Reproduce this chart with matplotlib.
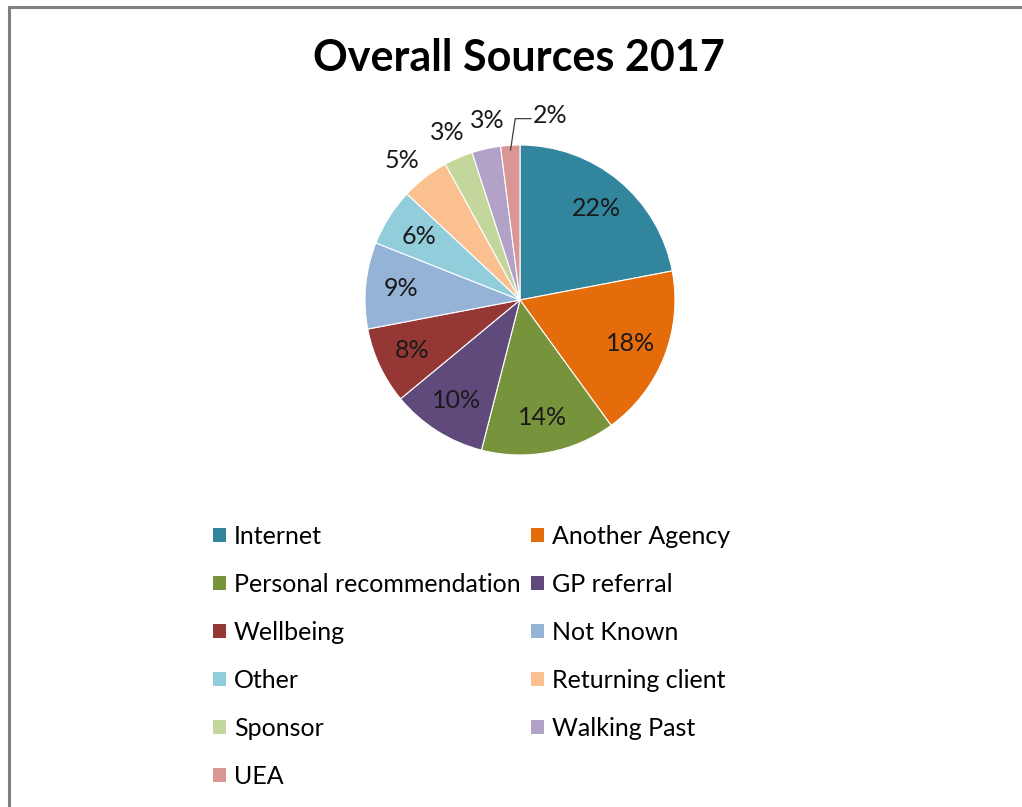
import numpy as np
import matplotlib.pyplot as plt
from matplotlib.patches import Patch
from matplotlib.lines import Line2D

plt.rcParams['font.family'] = ['Lato', 'DejaVu Sans']

sources = ['Internet', 'Another Agency', 'Personal recommendation', 'GP referral',
           'Wellbeing', 'Not Known', 'Other', 'Returning client', 'Sponsor',
           'Walking Past', 'UEA']
shares = [22, 18, 14, 10, 8, 9, 6, 5, 3, 3, 2]
colors = ['#31859C', '#E46C0A', '#77933C', '#604A7B', '#953735', '#95B3D7',
          '#92CDDC', '#FAC090', '#C3D69B', '#B3A2C7', '#D99694']

W, H = 1022, 807
fig = plt.figure(figsize=(W / 100, H / 100), dpi=100)

# pie centred at (520, 300) px, radius 155 px
cx, cy, r = 520, 300, 155
ax = fig.add_axes([(cx - r) / W, 1 - (cy + r) / H, 2 * r / W, 2 * r / H])
wedges, _ = ax.pie(shares, colors=colors, startangle=90, counterclock=False,
                   radius=1, wedgeprops=dict(edgecolor='white', linewidth=0.8))
ax.set_xlim(-1, 1)
ax.set_ylim(-1, 1)
ax.set_aspect('equal')
ax.axis('off')

total = sum(shares)
cum = 0
for i, v in enumerate(shares):
    mid = 90 - 360 * (cum + v / 2) / total
    cum += v
    txt = f'{v}%'
    if v >= 6:
        a = np.deg2rad(mid)
        ax.text(0.77 * np.cos(a), 0.77 * np.sin(a), txt, ha='center', va='center',
                fontsize=18, color='#1a1a1a')
    elif i == len(shares) - 1:
        # smallest slice: label pushed right with a leader line
        a = np.deg2rad(mid)
        x0, y0 = 0.97 * np.cos(a), 0.97 * np.sin(a)
        ax.add_line(Line2D([x0, x0 + 0.03, 0.07], [y0, 1.17, 1.17],
                           color='#404040', lw=0.9, clip_on=False))
        ax.text(0.08, 1.19, txt, ha='left', va='center', fontsize=18, color='#1a1a1a')
    else:
        # outside labels, fanned out a little so they do not touch
        a = np.deg2rad(mid + (8 - i) * 2.3)
        ax.text(1.18 * np.cos(a), 1.18 * np.sin(a), txt, ha='center', va='center',
                fontsize=18, color='#1a1a1a')

fig.text(519 / W, 1 - 58 / H, 'Overall Sources 2017', ha='center', va='center',
         fontsize=31, fontweight='bold', color='black')

# legend: row-wise order in two columns
handles = [Patch(facecolor=c, edgecolor='none') for c in colors]
order = list(range(0, len(sources), 2)) + list(range(1, len(sources), 2))
fig.legend([handles[k] for k in order], [sources[k] for k in order], ncol=2,
           loc='upper left', bbox_to_anchor=(213 / W, 1 - 525 / H), frameon=False,
           fontsize=18, handlelength=0.52, handleheight=0.52, handletextpad=0.32,
           columnspacing=0.4, labelspacing=1.0, borderpad=0, borderaxespad=0)

# panel border on the top and left edges
fig.add_artist(Line2D([8.5 / W, 8.5 / W], [0, 1 - 7 / H], color='#808080', lw=2.2,
                      transform=fig.transFigure))
fig.add_artist(Line2D([8.5 / W, 1], [1 - 7 / H, 1 - 7 / H], color='#808080', lw=2.2,
                      transform=fig.transFigure))

fig.savefig('out.png', dpi=100)
